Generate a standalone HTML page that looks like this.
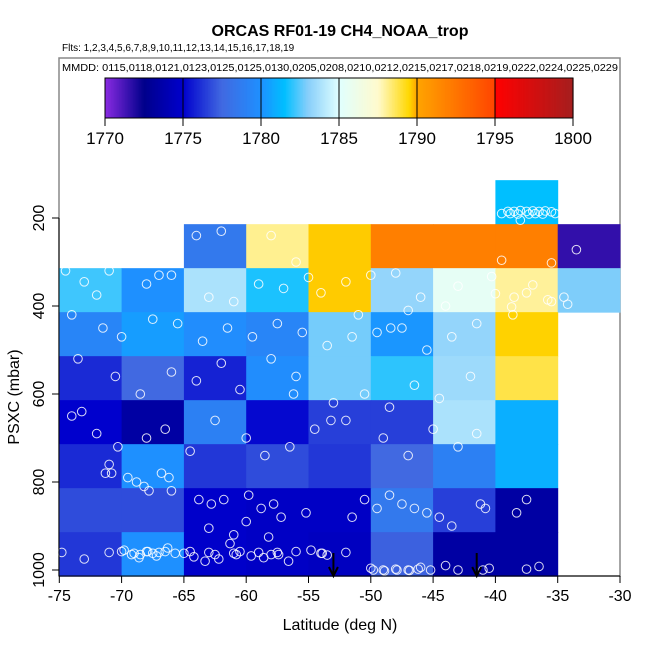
<!DOCTYPE html>
<html><head><meta charset="utf-8"><style>
body{margin:0;background:#fff;}
svg{display:block;font-family:"Liberation Sans",sans-serif;}
</style></head><body>
<svg id="chart" width="650" height="650"></svg>
<script>
const latEdges=[-75,-70,-65,-60,-55,-50,-45,-40,-35,-30];
const presEdges=[114,214,314,414,514,614,714,814,914,1014];
// rows top (114-214) to bottom (914-1014); columns -75..-30; null = no data
const ch4Grid=[
[null,null,null,null,null,null,null,1781.5,null],
[null,null,1778.5,1788.1,1789.62,1792,1792,1792,1771.6],
[1782.2,1780,1783.8,1781.8,1789.62,1783.3,1785.5,1788,1782.9],
[1779.3,1780.4,1779.8,1779.3,1782.8,1780.2,1783.3,1789.55,null],
[1776,1777.5,1775.8,1779.8,1782.8,1782,1783.5,1788.8,null],
[1775,1773.4,1779,1775.2,1776.5,1776.5,1783.8,1781,null],
[1776,1780,1776.3,1776.8,1776.3,1777.5,1779,1781,null],
[1776.8,1776.8,1774.9,1774.7,1774.7,1778.5,1776.5,1773.4,null],
[1776.3,1780,1774.9,1774.7,1774.5,1777.3,1773.4,1773.4,null]];
const ptLat=[-39,-38.5,-38,-37.5,-37,-36.5,-36,-35.5,-39.5,-38.8,-38.2,-37.3,-36.8,-36.2,-35.2,-38,
-33.5,-35.5,-39.5,-40.3,-37,-38.5,-37.5,-38.7,-35.5,-34.5,-35.8,-34.2,-40,-38.6,
-74.5,-71,-69,-67,-73,-63,-61,-59,-57,-55,-52,-50,-48,-46,-44,-43,-47,-51,-54,-56,-58,-62,-64,-66,-68,-72,
-74,-71.5,-70,-67.5,-65.5,-63.5,-61.5,-59.5,-57.5,-55.5,-53.5,-51.5,-49.5,-47.5,-45.5,-43.5,-41.5,
-73.5,-70.5,-68.5,-66,-64,-62,-60.5,-58,-56,-53,-50.5,-48.5,-46.5,-44.5,-42,
-74,-72,-70.3,-68,-66.5,-64.5,-62.5,-60,-58.5,-56.5,-54.5,-52,-49,-47,-45,-43,-41.5,
-74.8,-73,-71,-70,-69,-68.5,-68,-67.5,-67,-66.5,-65,-64.5,-63,-62.5,-61,-60.5,-59,-58,-57.5,-56,-54,-53.5,-52,-50,-49,-48,-47,-46,-44,-43,-41,-40.5,-37.5,-36.5,
-71.3,-70.8,-69.5,-68.8,-68.2,-67.8,-66.8,-66.2,-63.8,-62.8,-61.8,-59.8,-58.8,-57.8,-57.2,-55.2,-51.5,-50.5,-49.5,-48.5,-47.5,-46.5,-45.5,-44.5,-43.5,-41.2,-40.8,-38.3,-37.5,
-69.8,-69.2,-68.6,-67.9,-67.2,-66.3,-65.7,-64.2,-63.3,-62.2,-61.3,-60.8,-59.6,-58.6,-57.4,-56.6,-54.8,-53.9,-49.8,-48.9,-47.9,-46.9,-46.2,-45.2,-61,-58.2,-63,-60,-66,-71,-73.2,-56.2,-53.2,-48.4];
const ptPres=[185,185,183,185,184,185,184,186,190,190,191,191,190,191,190,205,
272,302,296,333,352,380,370,402,390,380,386,396,372,420,
320,320,298,330,345,380,390,350,360,335,345,330,325,380,400,355,410,420,370,300,240,230,240,330,350,375,
420,450,470,430,440,480,450,470,440,460,490,470,460,450,500,470,440,
520,560,600,550,570,530,590,520,560,620,600,630,580,610,560,
650,690,720,700,680,730,660,700,740,720,680,660,700,740,680,720,690,
960,975,960,958,962,965,958,962,960,958,962,958,960,965,962,958,960,965,960,958,962,966,960,996,1000,998,1000,994,990,1000,1000,996,998,992,
780,780,790,800,810,820,780,790,840,850,840,830,860,850,880,870,880,840,860,830,850,860,870,880,900,850,860,870,840,
955,965,972,958,968,950,962,970,980,975,940,965,968,972,965,980,955,962,1000,1002,1000,1001,998,1000,920,925,905,890,820,760,640,600,660,450];
const cbTicks=[1770,1775,1780,1785,1790,1795,1800];
const xTicks=[-75,-70,-65,-60,-55,-50,-45,-40,-35,-30];
const yTicks=[200,400,600,800,1000];
const arrowLats=[-53,-41.5];

const NS="http://www.w3.org/2000/svg";
const svg=document.getElementById('chart');
function mk(tag,attrs,parent){const e=document.createElementNS(NS,tag);for(const k in attrs)e.setAttribute(k,attrs[k]);(parent||svg).appendChild(e);return e;}
const X0=59.3,XS=12.46,Y200=218,YS=0.44;
const xs=v=>X0+(v+75)*XS;
const ys=p=>Y200+(p-200)*YS;
const stops=[[1770,[138,43,226]],[1772.5,[0,0,139]],[1775,[0,0,205]],[1777.5,[65,105,225]],[1780,[30,144,255]],[1781.5,[0,191,255]],[1783,[135,206,250]],[1785,[224,255,255]],[1787.5,[255,250,205]],[1789.5,[255,215,0]],[1790,[255,165,0]],[1794.99,[255,69,0]],[1795,[255,0,0]],[1800,[165,30,30]]];
function col(v){v=Math.max(1770,Math.min(1800,v));for(let i=0;i<stops.length-1;i++){const a=stops[i],b=stops[i+1];if(v<=b[0]){const t=(v-a[0])/(b[0]-a[0]);const c=a[1].map((x,j)=>Math.round(x+(b[1][j]-x)*t));return `rgb(${c})`;}}return 'rgb(165,30,30)';}

let fr=mk('rect',{x:59,y:58,width:561,height:518,fill:'none',stroke:'#888','stroke-width':1.5});

let t=mk('text',{x:340,y:36,'text-anchor':'middle','font-size':16,'font-weight':'bold'});t.textContent='ORCAS RF01-19 CH4_NOAA_trop';

t=mk('text',{x:62,y:51,'font-size':10});t.textContent='Flts: 1,2,3,4,5,6,7,8,9,10,11,12,13,14,15,16,17,18,19';

t=mk('text',{x:62,y:71,'font-size':10,textLength:556,lengthAdjust:'spacingAndGlyphs'});t.textContent='MMDD: 0115,0118,0121,0123,0125,0125,0130,0205,0208,0210,0212,0215,0217,0218,0219,0222,0224,0225,0229';


const CB0=105,CB1=573,cbx=v=>CB0+(v-1770)/30*(CB1-CB0);
const cb=mk('g',{});
for(let i=0;i<300;i++){const v=1770+i*0.1;mk('rect',{x:cbx(v),y:78,width:(CB1-CB0)/300+0.6,height:40,fill:col(v+0.05)},cb);}
mk('rect',{x:CB0,y:78,width:CB1-CB0,height:40,fill:'none',stroke:'#000','stroke-width':1},cb);
cbTicks.forEach(v=>{mk('line',{x1:cbx(v),x2:cbx(v),y1:78,y2:126,stroke:'#000'},cb);
 const l=mk('text',{x:cbx(v),y:144,'text-anchor':'middle','font-size':17},cb);l.textContent=v;
 });

const cells=mk('g',{});
ch4Grid.forEach((row,r)=>row.forEach((v,c)=>{if(v==null)return;
 const y1=ys(presEdges[r]),y2=ys(presEdges[r+1]),x1=xs(latEdges[c]),x2=xs(latEdges[c+1]);
 const e=mk('rect',{x:x1,y:y1,width:x2-x1+0.5,height:y2-y1+0.5,fill:col(v)},cells);
 }));

const pts=mk('g',{});
ptLat.forEach((la,i)=>{const e=mk('circle',{cx:xs(la),cy:ys(ptPres[i]),r:4.3,fill:'none',stroke:'#fff','stroke-width':1,opacity:0.85},pts);
 });

arrowLats.forEach(la=>{const g=mk('g',{});
 const x=xs(la);mk('line',{x1:x,x2:x,y1:553,y2:575,stroke:'#000','stroke-width':2},g);
 mk('path',{d:`M${x-4.5},${567} L${x},${576} L${x+4.5},${567}`,fill:'none',stroke:'#000','stroke-width':2},g);});

const ax=mk('g',{});
mk('line',{x1:xs(-75),x2:xs(-30),y1:576,y2:576,stroke:'#000'},ax);
xTicks.forEach(v=>{mk('line',{x1:xs(v),x2:xs(v),y1:576,y2:583,stroke:'#000'},ax);
 const l=mk('text',{x:xs(v),y:601,'text-anchor':'middle','font-size':16},ax);l.textContent=v;
 });
const ay=mk('g',{});
mk('line',{x1:59,x2:59,y1:ys(200),y2:576,stroke:'#000'},ay);
yTicks.forEach(v=>{mk('line',{x1:52,x2:59,y1:ys(v),y2:ys(v),stroke:'#000'},ay);
 const l=mk('text',{x:44,y:ys(v),'text-anchor':'middle','font-size':16,transform:`rotate(-90 44 ${ys(v)})`},ay);l.textContent=v;
 });
t=mk('text',{x:340,y:630,'text-anchor':'middle','font-size':16});t.textContent='Latitude (deg N)';

t=mk('text',{x:19,y:397,'text-anchor':'middle','font-size':16,transform:'rotate(-90 19 397)'});t.textContent='PSXC (mbar)';

</script>
</body></html>
